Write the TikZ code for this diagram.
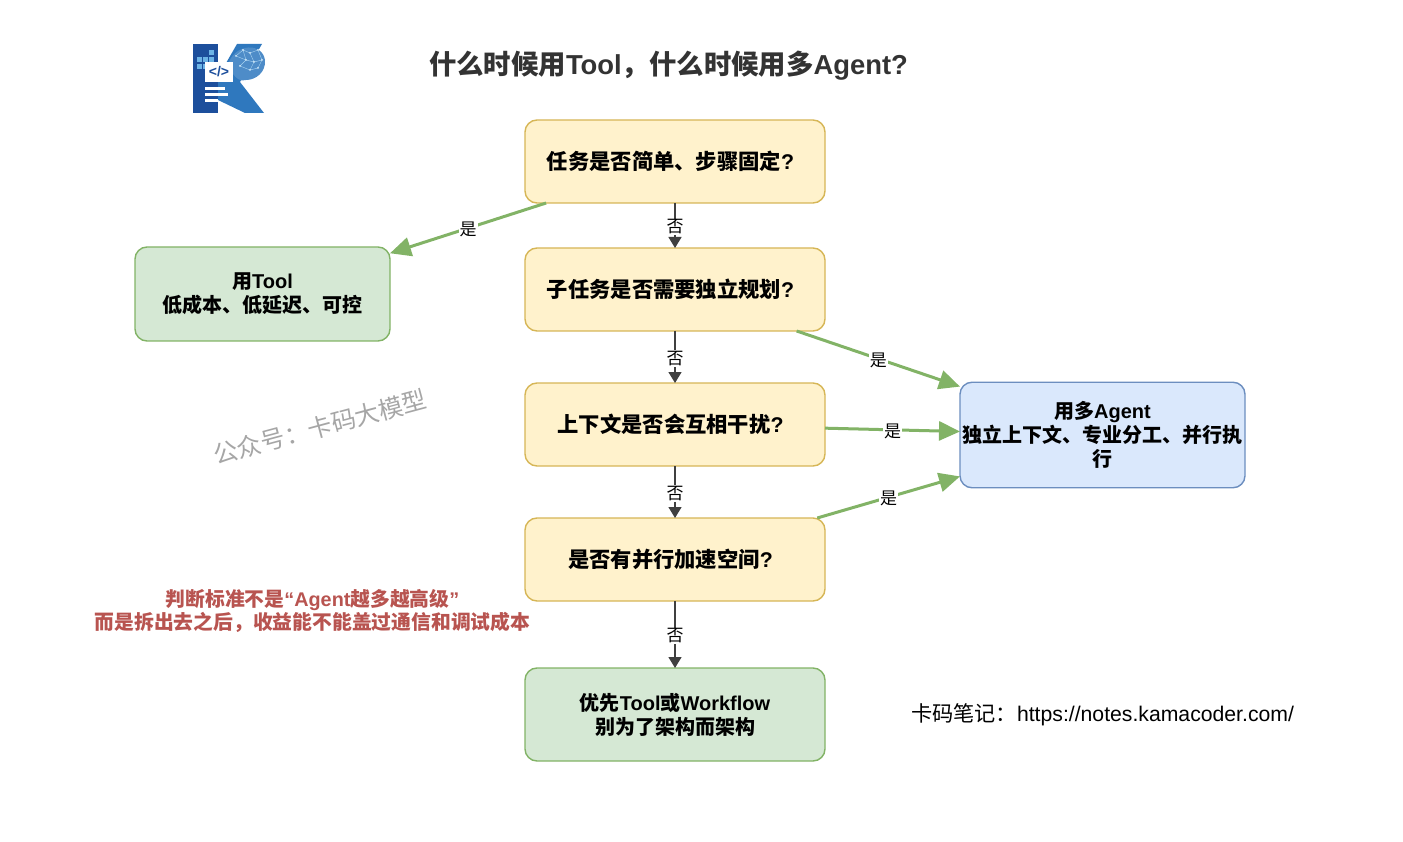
\documentclass[tikz,border=0pt]{standalone}
\usepackage{fontspec}
\setmainfont{Noto Sans CJK SC}
\newfontfamily\lat{Liberation Sans}
\usepackage{tikz}
\usetikzlibrary{arrows.meta}
\usetikzlibrary{positioning}
\definecolor{askfill}{HTML}{FFF2CC}
\definecolor{askline}{HTML}{D6B656}
\definecolor{toolfill}{HTML}{D5E8D4}
\definecolor{toolline}{HTML}{82B366}
\definecolor{agentfill}{HTML}{DAE8FC}
\definecolor{agentline}{HTML}{6C8EBF}
\definecolor{warnred}{HTML}{B85450}
\definecolor{logodark}{HTML}{1D4F9C}
\definecolor{logomid}{HTML}{2F78BE}
\definecolor{logolight}{HTML}{6DB4E6}
\newcommand{\askmark}{{\lat ?}\hspace*{9pt}}

\begin{document}
\begin{tikzpicture}[x=1pt,y=-1pt]

\tikzstyle{box}=[draw, rounded corners=12pt, line width=1.4pt, outer sep=0pt, inner xsep=1pt, align=center, font=\fontsize{20}{23.8}\selectfont\bfseries]
\tikzstyle{ask}=[box, fill=askfill, draw=askline, minimum width=300pt, minimum height=83pt, font=\fontsize{21.3}{25}\selectfont\bfseries]
\tikzstyle{noline}=[draw=black!75, line width=1.4pt, -{Triangle[length=11pt,width=13pt]}]
\tikzstyle{yesline}=[draw=toolline, line width=3pt, -{Triangle[length=21pt,width=19pt]}]
\tikzstyle{answer}=[fill=white, inner sep=1pt, text=black, yshift=-1.5pt, font=\fontsize{17}{19}\selectfont]

\useasboundingbox (0,0) rectangle (1403,842);

% logo
\fill[logodark] (193,44) rectangle (218,113);
\fill[logomid] (218,77) -- (237,44) -- (262,44) -- (240,82) -- (264,113) -- (245,113) -- (218,100) -- cycle;
\fill[logomid!85] (229,62) .. controls (236,44) and (262,42) .. (265,60) .. controls (266,72) and (256,80) .. (246,80) .. controls (240,82) and (236,78) .. (233,74) -- cycle;
\draw[logolight!60, line width=0.4pt] (236,56) -- (243,50) -- (250,53) -- (258,50) -- (262,60) -- (254,62) -- (246,60) -- (240,66) -- (250,70) -- (258,68) -- (262,60) (250,53) -- (254,62) -- (250,70) (243,50) -- (246,60) -- (236,56);
\foreach \x/\y in {236/56, 243/50, 250/53, 258/50, 262/60, 254/62, 246/60, 240/66, 250/70, 258/68}
  \fill[white!70!logolight] (\x,\y) circle (1pt);
\foreach \x/\y in {197/57, 197/64, 203/57, 209/50, 209/57, 203/64}
  \fill[logolight] (\x,\y) rectangle +(5,5);
\fill[white] (205,62) rectangle (233,82);
\node[text=logodark, inner sep=0pt, font=\lat\fontsize{14}{14}\selectfont\bfseries] (logocode) at (219,72) {</>};
\fill[white] (205,87) rectangle (225,90);
\fill[white] (205,93) rectangle (228,96);
\fill[white] (205,99) rectangle (218,102);

\node[inner sep=0pt, text=black!80, font=\fontsize{27.4}{31}\selectfont\bfseries] (title) at (668.5,65.5) {什么时候用{\lat Tool}，什么时候用多{\lat Agent?}};

\node[ask] (simple) at (675,161.5) {任务是否简单、步骤固定\askmark};
\node[ask, below=45pt of simple] (plan) {子任务是否需要独立规划\askmark};
\node[ask, below=52pt of plan] (context) {上下文是否会互相干扰\askmark};
\node[ask, below=52pt of context] (parallel) {是否有并行加速空间\askmark};
\node[box, fill=toolfill, draw=toolline, minimum width=300pt, minimum height=93pt, below=67pt of parallel] (workflow) {优先{\lat Tool}或{\lat Workflow}\\别为了架构而架构};

\node[box, fill=toolfill, draw=toolline, minimum width=255pt, minimum height=94pt] (tool) at (262.5,294) {用{\lat Tool}\\低成本、低延迟、可控};
\node[box, fill=agentfill, draw=agentline, minimum width=285pt, minimum height=105.5pt] (agent) at (1102.5,435) {用多{\lat Agent}\\独立上下文、专业分工、并行执\\行};

\node[rotate=15, text=black!35, inner sep=0pt, font=\fontsize{24.4}{28}\selectfont] (stamp) at (320,427) {公众号：卡码大模型};
\node[text=warnred, align=center, inner sep=0pt, font=\fontsize{19.8}{23.4}\selectfont\bfseries] (warning) at (312.5,611) {判断标准不是{\lat “Agent}越多越高级{\lat ”}\\而是拆出去之后，收益能不能盖过通信和调试成本};
\node[inner sep=0pt, font=\fontsize{21.2}{25}\selectfont] (notes) at (1102.5,715) {卡码笔记：{\lat https://notes.kamacoder.com/}};

\path[noline] (simple) -- node[answer] {否} (plan);
\path[noline] (plan) -- node[answer] {否} (context);
\path[noline] (context) -- node[answer] {否} (parallel);
\path[noline] (parallel) -- node[answer] {否} (workflow);

\path[yesline] (simple) -- node[answer, pos=0.5] {是} (tool);
\path[yesline] (plan) -- node[answer, pos=0.5] {是} (agent);
\path[yesline] (context) -- node[answer] {是} (agent);
\path[yesline] (parallel) -- node[answer] {是} (agent);

\end{tikzpicture}
\end{document}
